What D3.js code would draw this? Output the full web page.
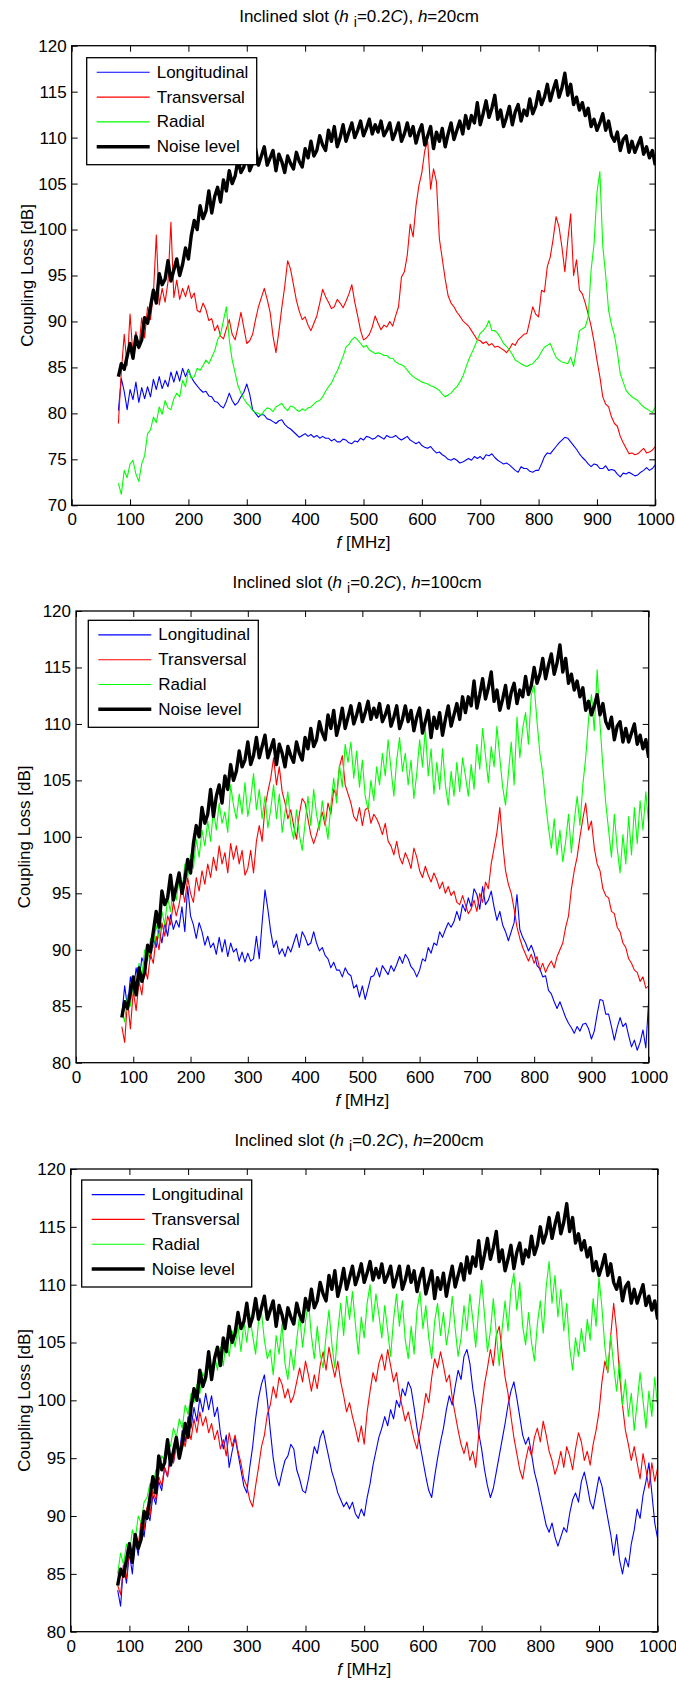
<!DOCTYPE html>
<html><head><meta charset="utf-8">
<script src="https://cdn.jsdelivr.net/npm/d3@7"></script>
<style>
body{margin:0;background:#fff;}
text{font-family:"Liberation Sans",Arial,Helvetica,sans-serif;fill:#000;}
</style></head><body>
<svg id="c" width="676" height="1681"></svg>
<script>
// ---------------- data ----------------
const freqStart = 80, freqStep = 5, freqEnd = 1000;   // MHz sampling grid
const seriesNames = ["Longitudinal", "Transversal", "Radial", "Noise level"];
const seriesColors = ["#0000ff", "#ff0000", "#00ff00", "#000000"];
const xTicks = [0,100,200,300,400,500,600,700,800,900,1000];
const yTicksA = [70,75,80,85,90,95,100,105,110,115,120];
const yTicksB = [80,85,90,95,100,105,110,115,120];
const heights = ["20cm", "100cm", "200cm"];

const noiseLevel = [
84.0,85.4,84.8,86.2,87.6,86.0,88.4,87.2,88.0,90.4,
89.8,91.6,93.4,92.0,95.2,94.0,94.6,96.6,94.4,95.6,
96.8,95.0,96.2,98.0,96.8,99.4,101.0,100.0,102.6,101.2,
102.0,104.2,101.8,103.6,104.6,103.0,105.4,104.2,106.4,105.0,
105.8,107.6,106.2,106.8,108.4,106.4,107.2,108.8,107.0,108.0,
109.0,107.0,107.8,108.6,106.4,108.2,107.4,106.2,108.0,107.2,
106.6,108.4,107.4,106.8,108.8,107.8,109.6,108.0,108.6,110.2,
109.2,108.6,110.8,109.6,111.2,109.0,110.0,111.4,109.6,110.6,
111.6,110.0,110.8,111.8,110.2,111.0,112.0,110.4,111.4,110.6,
111.8,110.2,110.8,111.6,109.8,110.6,111.6,109.6,110.4,111.6,
110.2,111.2,109.4,110.6,111.4,109.2,110.2,111.2,108.8,110.6,
109.6,111.0,109.0,110.4,111.6,109.8,110.8,111.8,110.4,112.4,
111.0,112.4,111.6,113.8,111.4,112.6,114.0,112.2,113.2,114.6,
112.0,113.0,111.2,112.2,113.4,111.4,112.8,113.6,111.8,113.0,
112.4,114.2,112.6,113.4,115.0,113.6,114.4,115.8,114.0,115.2,
116.2,114.4,115.4,117.0,114.6,115.8,113.6,114.4,113.0,113.8,
112.4,113.2,111.2,112.0,110.8,111.6,112.6,110.8,111.8,110.2,
109.6,110.6,108.6,109.8,110.2,108.4,109.6,108.4,109.2,110.0,
108.2,109.0,107.8,108.6,107.0];

// h = 20 cm
const long20 = [
80.3,83.8,82.4,80.4,82.6,81.5,83.4,81.2,82.8,81.6,
82.9,81.8,83.7,82.6,84.0,82.7,83.6,82.9,84.5,83.4,
84.6,83.5,84.9,84.0,84.8,83.9,83.4,83.0,82.6,82.3,
82.4,81.9,81.8,81.3,81.2,80.8,80.6,81.3,82.2,81.4,
80.9,81.2,81.8,82.3,83.2,82.1,80.4,80.0,79.6,79.9,
79.8,79.4,79.3,79.1,78.9,79.2,79.3,78.8,78.5,78.3,
78.0,77.7,77.4,77.6,77.8,77.5,77.7,77.4,77.6,77.3,
77.5,77.3,77.3,77.0,77.2,76.9,76.9,77.2,77.1,76.8,
76.7,77.0,76.9,77.3,77.1,77.5,77.4,77.2,77.3,77.6,
77.4,77.2,77.6,77.4,77.4,77.6,77.3,77.1,77.3,77.5,
77.1,76.9,76.7,76.9,76.5,76.3,76.2,76.4,76.0,75.7,
75.8,75.5,75.3,75.0,74.9,75.1,74.9,74.6,74.7,74.9,
75.1,74.9,75.3,75.1,75.3,75.0,75.5,75.4,75.6,75.2,
74.9,74.7,74.5,74.6,74.4,74.1,73.8,73.6,74.2,74.0,
74.0,73.7,73.6,73.8,73.8,74.5,75.3,75.7,75.6,76.0,
76.4,76.8,77.1,77.4,77.3,76.9,76.5,76.1,75.6,75.2,
74.9,74.5,74.2,74.5,74.4,74.0,74.0,74.3,73.8,73.9,
73.8,73.4,73.1,73.5,73.4,73.6,73.4,73.2,73.3,73.6,
73.8,74.1,73.8,74.0,74.4];
const trans20 = [
78.9,84.5,88.6,85.2,90.8,86.3,88.9,87.0,90.4,88.2,
91.6,90.2,93.0,99.4,91.8,93.6,92.1,94.3,100.8,92.6,
94.5,92.4,93.6,92.7,93.9,92.5,93.1,91.2,91.0,92.0,
91.3,90.1,90.3,89.0,89.6,88.4,88.1,89.2,90.2,88.6,
88.0,89.4,91.0,89.3,87.6,87.9,88.6,90.2,91.6,92.6,
93.6,92.4,91.0,88.4,86.6,88.9,91.5,93.8,96.6,95.7,
94.0,92.3,91.1,90.2,90.5,89.6,89.0,89.8,90.6,92.0,
93.5,92.7,92.1,91.4,91.6,92.4,92.0,91.5,92.2,93.0,
94.0,92.1,90.6,89.0,88.0,88.2,88.6,89.4,90.6,89.8,
89.1,89.6,89.4,90.0,89.5,90.6,91.6,94.8,95.4,97.2,
100.6,99.2,102.6,104.8,106.2,108.6,109.6,104.4,106.6,105.2,
99.0,96.8,94.6,92.8,92.0,91.6,91.0,90.6,90.1,89.8,
89.5,89.0,88.5,88.0,87.9,87.6,87.8,87.4,87.6,87.2,
87.3,87.1,86.9,86.6,87.0,87.6,87.4,88.0,88.3,88.6,
88.7,90.1,91.6,90.8,90.5,93.4,93.2,96.0,97.0,99.0,
101.4,100.3,98.1,95.4,98.8,101.7,95.0,96.7,93.4,93.0,
92.0,90.8,89.5,87.8,85.8,84.0,81.8,81.0,80.7,79.6,
78.9,78.6,77.5,76.8,76.2,75.6,75.7,75.5,75.6,75.9,
76.2,75.7,75.8,76.0,76.4];
const rad20 = [
72.4,71.2,73.8,73.0,74.5,74.9,73.4,72.6,74.5,75.4,
77.8,78.2,79.6,79.0,80.7,79.9,81.4,80.6,80.4,81.6,
82.2,81.8,83.6,82.9,84.7,83.8,84.0,84.9,84.7,85.2,
85.8,85.4,86.1,86.8,88.0,88.6,90.1,91.6,88.0,85.8,
84.4,83.0,82.2,81.6,81.1,80.8,80.3,80.1,80.0,79.8,
80.3,80.6,80.5,80.2,80.7,80.9,81.1,80.6,80.3,80.8,
80.7,80.4,80.2,80.5,80.3,80.6,80.7,81.0,81.3,81.4,
81.8,82.4,82.9,83.3,84.0,84.6,85.4,86.2,87.2,87.5,
88.0,88.3,88.0,87.6,87.2,87.4,86.9,86.7,86.5,86.6,
86.5,86.3,86.3,86.0,86.0,85.6,85.4,85.3,85.1,84.7,
84.3,84.0,83.8,83.6,83.4,83.3,83.2,83.0,82.9,82.7,
82.5,82.1,81.8,82.0,82.2,82.6,82.9,83.4,84.0,84.9,
85.8,86.5,87.2,88.0,88.7,89.0,89.4,90.1,89.0,89.0,
88.7,88.2,87.6,87.3,86.9,86.4,85.8,85.6,85.4,85.2,
85.1,85.3,85.4,85.8,86.1,86.7,87.2,87.4,87.6,86.8,
86.1,85.8,85.6,85.5,85.4,86.1,85.1,87.0,89.0,89.2,
89.4,90.5,95.6,98.4,104.0,106.3,98.2,95.0,91.2,89.6,
88.5,86.6,84.3,83.4,82.5,82.1,81.8,81.6,81.4,81.0,
80.7,80.5,80.3,80.1,80.7];

// h = 100 cm
const long100 = [
84.2,86.8,84.9,87.6,86.3,88.4,87.1,89.3,88.6,89.9,
89.2,91.0,90.2,91.8,90.6,92.4,91.2,93.1,91.8,92.6,
92.0,93.8,91.6,95.6,93.0,92.2,91.0,92.4,91.6,90.4,
91.2,90.2,90.6,89.6,91.1,89.8,90.9,89.4,90.6,89.8,
90.1,89.0,89.8,88.9,89.7,89.0,89.2,91.2,89.2,92.4,
95.3,93.6,91.6,90.2,90.8,89.6,90.1,89.4,90.3,89.8,
90.6,91.4,90.2,91.6,91.1,90.4,90.6,91.6,90.6,89.9,
90.2,89.5,89.2,88.4,88.9,88.2,88.2,87.6,88.4,87.9,
87.7,86.6,86.9,85.8,86.8,85.6,86.6,87.6,87.7,88.4,
87.6,88.6,88.2,87.8,88.6,88.1,88.7,89.4,88.8,89.6,
89.2,88.5,88.2,87.6,88.2,89.2,89.0,90.2,89.7,90.6,
90.4,91.6,91.1,91.8,92.4,92.0,92.5,93.4,92.6,94.0,
93.4,94.6,93.8,95.4,94.9,93.6,95.6,94.0,94.4,95.2,
93.8,92.6,93.4,92.2,91.6,90.8,91.6,92.4,94.9,91.8,
91.1,90.6,89.9,90.4,89.7,88.6,88.3,87.6,87.7,86.4,
86.1,85.4,84.8,85.4,84.7,84.0,83.5,83.1,82.6,83.2,
82.8,83.4,83.5,83.0,82.1,82.8,84.3,85.6,85.5,84.3,
84.3,83.2,82.0,83.1,84.0,83.2,83.5,82.4,81.4,82.0,
81.1,81.8,82.9,81.3,85.6];
const trans100 = [
83.2,81.8,85.6,83.0,86.4,84.6,87.2,86.0,88.4,87.4,
89.6,88.8,91.2,90.0,92.4,91.2,93.0,92.2,94.2,93.0,
94.0,95.6,94.2,96.4,95.0,94.2,96.4,95.2,97.0,95.8,
97.6,96.4,98.2,97.0,99.2,97.6,98.6,96.8,99.4,98.0,
99.2,97.6,98.8,96.6,97.2,98.8,96.8,99.6,101.0,99.6,
102.6,104.0,105.2,107.0,104.6,106.2,104.0,103.0,101.6,102.4,
101.0,99.8,102.0,103.4,103.0,101.6,100.2,99.4,100.2,101.2,
102.2,101.0,103.0,102.0,104.2,103.6,106.2,107.2,104.6,103.8,
103.0,101.8,101.4,102.6,101.0,102.4,102.6,101.2,102.0,101.6,
101.0,100.2,101.2,99.6,99.2,98.4,99.6,98.2,97.6,98.6,
98.0,97.2,99.0,98.2,97.0,96.4,97.4,96.6,96.0,96.8,
96.2,95.4,96.0,95.0,95.6,94.8,95.2,94.2,94.0,94.8,
94.0,93.2,93.6,94.4,93.4,95.0,94.2,96.0,95.4,97.6,
99.0,100.4,102.6,99.4,97.0,95.8,95.0,93.6,92.0,91.0,
90.2,89.6,89.0,89.6,88.8,89.4,88.2,88.8,88.0,88.6,
89.0,88.4,89.4,90.0,90.6,92.0,93.0,95.4,97.0,98.2,
100.0,101.6,103.0,100.6,101.4,99.0,97.6,97.0,95.4,94.8,
94.6,93.4,93.2,92.0,91.6,90.6,90.2,89.2,88.8,88.2,
88.0,87.2,87.6,86.6,86.8];
const rad100 = [
84.6,83.6,86.0,85.0,87.4,86.2,88.8,87.6,90.0,89.0,
91.0,90.2,92.2,91.0,93.4,92.2,94.6,93.4,95.6,94.4,
96.2,95.0,97.6,96.4,98.4,97.2,99.8,98.2,100.6,99.2,
101.4,99.6,102.4,100.6,103.0,101.2,102.2,100.4,104.6,102.8,
101.6,103.8,102.0,104.8,101.8,103.4,105.6,102.4,104.2,101.6,
103.6,100.8,102.4,104.6,101.6,103.8,100.4,102.2,104.0,101.0,
99.8,102.4,100.2,98.8,101.2,103.6,101.0,104.2,102.0,100.6,
103.2,101.4,99.8,102.8,105.2,103.0,106.4,104.4,108.2,106.6,
108.4,105.2,107.6,104.4,106.8,103.6,102.4,105.0,103.2,106.2,
104.6,107.4,105.4,108.6,106.0,103.6,106.8,108.8,105.8,107.4,
104.6,106.8,103.4,105.6,108.6,106.2,109.6,105.4,107.8,103.8,
106.6,104.2,107.8,104.6,102.8,105.8,103.6,106.6,104.0,107.0,
105.4,103.6,106.4,104.2,108.2,106.0,109.6,107.2,104.8,108.0,
106.2,109.8,107.0,104.4,102.8,105.6,108.4,104.6,110.6,107.0,
109.6,111.0,108.2,112.6,113.4,110.2,107.4,105.6,103.0,100.8,
99.0,101.6,98.4,100.6,97.8,99.6,102.0,98.6,101.4,103.6,
101.0,104.6,107.0,110.4,112.6,109.4,114.8,110.0,106.2,103.0,
100.6,98.2,102.0,99.0,96.8,100.2,97.6,101.8,98.4,102.6,
99.4,103.2,100.6,104.0,101.0];

// h = 200 cm
const long200 = [
83.6,82.2,85.8,84.2,86.8,85.0,88.0,86.6,89.4,88.2,
90.4,89.6,91.8,91.0,93.0,92.2,94.2,93.4,95.4,94.6,
96.2,95.4,97.4,96.4,98.6,97.6,99.4,98.2,100.2,99.0,
100.6,99.2,100.4,98.6,99.4,97.2,95.8,97.0,94.2,95.6,
96.8,95.4,94.0,92.6,92.0,94.2,96.0,98.4,100.2,101.4,
102.2,100.0,97.4,95.0,93.4,92.6,93.8,94.8,95.2,96.2,
95.8,94.0,93.2,92.2,92.0,93.2,94.6,96.0,95.4,96.8,
97.4,96.2,95.0,93.8,93.0,92.0,91.4,90.8,91.2,90.6,
91.2,90.2,89.8,90.6,90.0,91.6,92.8,94.4,95.6,96.8,
97.6,98.6,97.8,99.2,98.4,100.0,99.4,101.0,100.4,101.6,
101.0,99.4,97.6,96.2,94.8,93.4,92.2,91.6,93.4,95.0,
96.4,97.6,99.2,100.4,99.6,101.2,102.6,101.8,103.8,104.4,
103.2,101.0,99.4,97.2,95.8,94.0,92.6,91.6,92.4,93.8,
95.2,96.6,98.0,99.6,100.8,101.6,100.2,98.6,97.0,96.2,
96.8,95.4,93.8,92.8,91.6,90.4,89.2,88.6,89.4,88.2,
87.4,88.2,89.0,88.6,90.2,91.4,92.0,91.2,93.0,93.8,
92.6,91.2,90.6,92.0,93.4,92.6,91.2,89.8,88.4,86.6,
88.4,86.2,85.0,86.4,85.6,87.6,88.8,90.6,89.8,91.8,
93.0,94.6,92.0,89.4,88.0];
const trans200 = [
84.0,83.2,85.8,84.6,87.2,86.0,88.4,87.4,89.6,88.8,
90.8,90.0,92.2,91.4,93.4,92.6,94.2,93.4,95.2,94.6,
96.2,95.2,97.0,96.0,97.6,96.6,98.4,97.2,99.0,97.8,
98.6,97.2,98.0,96.6,97.4,95.8,96.6,95.2,97.2,96.0,
97.0,95.6,94.6,93.2,92.6,91.4,90.8,92.6,94.2,96.0,
97.0,98.8,99.6,101.2,100.2,102.0,101.4,100.2,101.0,99.8,
100.4,101.6,102.8,101.6,103.4,102.2,100.8,102.2,101.0,103.0,
104.2,102.6,104.6,103.2,102.0,103.4,101.6,100.4,99.0,99.8,
98.6,97.6,96.4,97.8,96.2,99.0,100.8,102.4,101.6,103.2,
104.0,102.6,104.4,103.0,101.6,102.4,100.6,99.4,98.2,99.0,
97.8,96.6,95.8,97.4,98.8,100.6,99.8,102.0,103.6,102.8,
104.2,103.0,101.6,102.2,100.2,98.8,97.4,96.2,95.4,96.4,
94.8,95.6,94.2,97.0,99.4,101.4,102.8,104.4,103.0,105.6,
106.4,104.2,102.0,100.6,98.6,96.8,95.4,94.0,93.2,94.8,
96.0,95.2,96.8,97.6,96.4,98.2,97.0,95.6,94.8,93.6,
94.4,95.6,94.2,96.0,95.2,94.0,95.8,97.2,96.4,94.8,
95.6,94.4,96.2,97.4,99.0,101.6,103.4,102.4,105.6,108.4,
106.0,102.2,99.6,97.4,96.2,94.8,96.0,94.6,93.2,95.4,
94.0,92.4,94.6,93.0,94.2];
const rad200 = [
85.0,86.8,85.8,87.6,86.6,88.8,88.0,90.0,89.4,91.2,
91.6,92.8,92.4,94.0,93.6,95.2,94.8,96.4,96.0,97.6,
96.8,98.4,97.6,99.6,98.8,100.6,99.8,101.4,100.6,102.4,
101.6,103.0,102.0,104.0,102.6,104.6,103.0,105.4,103.8,106.0,
104.6,106.4,104.2,106.8,105.0,107.4,105.6,104.0,106.8,107.6,
105.2,103.6,104.4,102.2,105.6,104.0,106.6,103.2,101.8,104.4,
102.6,105.2,107.4,104.6,106.8,108.6,105.6,103.6,106.4,104.0,
102.8,105.6,107.8,104.8,102.8,106.0,108.4,105.6,109.0,107.0,
109.4,106.6,104.0,107.2,105.4,108.4,110.0,106.8,109.2,107.4,
105.4,108.2,106.0,103.8,107.0,109.2,106.4,108.6,105.2,103.6,
106.4,104.0,107.8,109.4,106.2,108.2,105.4,103.6,106.8,108.4,
105.6,107.6,104.8,106.4,109.0,106.2,103.8,105.4,108.2,106.0,
109.2,107.0,104.6,107.8,110.4,107.4,104.2,106.0,108.8,105.8,
103.0,106.2,108.6,106.0,109.6,111.0,107.8,110.2,106.4,104.8,
107.6,105.0,103.4,106.6,108.6,105.8,109.8,112.0,108.4,110.8,
107.2,109.6,106.0,108.4,104.6,102.6,105.4,103.8,106.2,104.2,
107.0,105.2,108.8,106.4,110.6,108.0,104.6,102.4,105.6,103.0,
100.8,103.4,99.6,101.8,98.6,100.6,97.4,99.8,102.4,100.0,
97.6,100.8,98.6,102.0,99.4];

// ---------------- layout ----------------
const panels = [
  {h: heights[0], series: [long20, trans20, rad20, noiseLevel], yTicks: yTicksA,
   left: 71.7, right: 655.3, top: 45.7, bottom: 505.3, ylabX: 27, titleX: 359, leg: {dx: 15, dy: 12}},
  {h: heights[1], series: [long100, trans100, rad100, noiseLevel], yTicks: yTicksB,
   left: 76, right: 648.7, top: 611, bottom: 1062.7, ylabX: 24, titleX: 357, leg: {dx: 12.3, dy: 9.3}},
  {h: heights[2], series: [long200, trans200, rad200, noiseLevel], yTicks: yTicksB,
   left: 70.7, right: 657.7, top: 1169, bottom: 1631.7, ylabX: 24, titleX: 359, leg: {dx: 11, dy: 11}}
];

const FS = 17;
const svg = d3.select("#c");
const freqs = d3.range(freqStart, freqEnd + freqStep / 2, freqStep);

panels.forEach((p, pi) => {
  const g = svg.append("g");
  const x = d3.scaleLinear().domain([0, 1000]).range([p.left, p.right]);
  const y = d3.scaleLinear().domain([p.yTicks[0], p.yTicks[p.yTicks.length - 1]]).range([p.bottom, p.top]);

  const clipId = "clip" + pi;
  g.append("clipPath").attr("id", clipId).append("rect")
    .attr("x", p.left).attr("y", p.top).attr("width", p.right - p.left).attr("height", p.bottom - p.top);

  // lines
  const line = d3.line().x((d, i) => x(freqs[i])).y(d => y(d));
  const lg = g.append("g").attr("clip-path", `url(#${clipId})`);
  p.series.forEach((s, si) => {
    lg.append("path").datum(s).attr("d", line)
      .attr("fill", "none").attr("stroke", seriesColors[si])
      .attr("stroke-width", si === 3 ? 3.4 : 1.1)
      .attr("stroke-linejoin", "round");
  });

  // axes (ticks inward)
  const styleAxis = sel => { sel.select(".domain").remove(); sel.selectAll("line").attr("stroke", "#000").attr("stroke-width", 1);
    sel.selectAll("text").attr("font-size", FS).attr("font-family", '"Liberation Sans",Arial,sans-serif'); };
  g.append("g").attr("transform", `translate(0,${p.bottom})`)
    .call(d3.axisBottom(x).tickValues(xTicks).tickSizeInner(-6).tickSizeOuter(0).tickPadding(8).tickFormat(d3.format("d")))
    .call(styleAxis);
  g.append("g").attr("transform", `translate(0,${p.top})`)
    .call(d3.axisTop(x).tickValues(xTicks).tickSizeInner(-6).tickSizeOuter(0).tickFormat(""))
    .call(styleAxis);
  g.append("g").attr("transform", `translate(${p.left},0)`)
    .call(d3.axisLeft(y).tickValues(p.yTicks).tickSizeInner(-6).tickSizeOuter(0).tickPadding(5).tickFormat(d3.format("d")))
    .call(styleAxis);
  g.append("g").attr("transform", `translate(${p.right},0)`)
    .call(d3.axisRight(y).tickValues(p.yTicks).tickSizeInner(-6).tickSizeOuter(0).tickFormat(""))
    .call(styleAxis);

  // frame
  g.append("rect").attr("x", p.left).attr("y", p.top).attr("width", p.right - p.left).attr("height", p.bottom - p.top)
    .attr("fill", "none").attr("stroke", "#000").attr("stroke-width", 1.3);

  // title
  const t = g.append("text").attr("x", p.titleX).attr("y", p.top - 23.5).attr("text-anchor", "middle").attr("font-size", FS);
  t.append("tspan").text("Inclined slot (");
  t.append("tspan").attr("font-style", "italic").text("h");
  t.append("tspan").attr("dx", 5).attr("dy", 5).attr("font-size", 14).text("i");
  t.append("tspan").attr("dy", -5).text("=0.2");
  t.append("tspan").attr("font-style", "italic").text("C");
  t.append("tspan").text("), ");
  t.append("tspan").attr("font-style", "italic").text("h");
  t.append("tspan").text("=" + p.h);

  // x label
  const xl = g.append("text").attr("x", (p.left + p.right) / 2).attr("y", p.bottom + 43).attr("text-anchor", "middle").attr("font-size", FS);
  xl.append("tspan").attr("font-style", "italic").text("f");
  xl.append("tspan").text(" [MHz]");

  // y label
  g.append("text").attr("transform", `translate(${p.ylabX},${(p.top + p.bottom) / 2}) rotate(-90)`)
    .attr("text-anchor", "middle").attr("dominant-baseline", "central").attr("font-size", FS)
    .text("Coupling Loss [dB]");

  // legend
  const lx = p.left + p.leg.dx, ly = p.top + p.leg.dy;
  const leg = g.append("g");
  leg.append("rect").attr("x", lx).attr("y", ly).attr("width", 170).attr("height", 107)
    .attr("fill", "#fff").attr("stroke", "#000").attr("stroke-width", 1.3);
  seriesNames.forEach((n, i) => {
    const yy = ly + 14.6 + i * 24.8;
    leg.append("line").attr("x1", lx + 10).attr("x2", lx + 63).attr("y1", yy).attr("y2", yy)
      .attr("stroke", seriesColors[i]).attr("stroke-width", i === 3 ? 3.4 : 1.1);
    leg.append("text").attr("x", lx + 70).attr("y", yy).attr("dominant-baseline", "central")
      .attr("font-size", FS).text(n);
  });
});
</script>
</body></html>
